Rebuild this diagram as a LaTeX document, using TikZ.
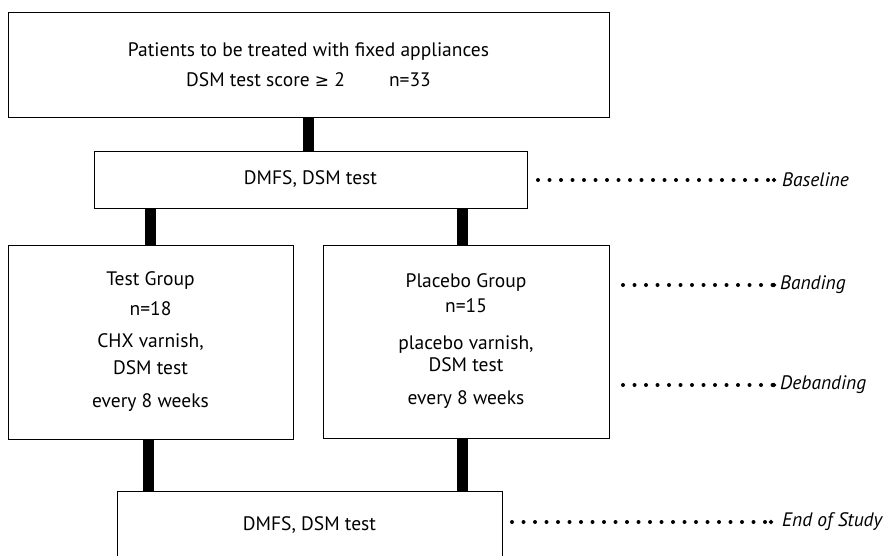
\documentclass[tikz,border=0pt]{standalone}
\usepackage{fontspec}
\setmainfont{PT Sans}
\newfontfamily\symfont{DejaVu Sans}
\usetikzlibrary{arrows.meta}
\tikzset{
	box/.style = {draw, line width = 1pt, inner sep = 0pt, align = center, font = \fontsize{19.5}{23.4}\selectfont},
	bar/.style = {line width = 11pt},
	leader/.style = {line width = 4pt, line cap = round, dash pattern = on 0pt off 11.5pt, -{Circle[length = 4pt, width = 4pt]}},
	stage/.style = {anchor = west, inner sep = 0pt, font = \fontsize{19.5}{23.4}\selectfont\itshape}
}

\begin{document}
\begin{tikzpicture}[x = 1pt, y = -1pt]
		\useasboundingbox (0,0) rectangle (886,555);
		\node (A)[box, minimum width = 601, minimum height = 105] at (308.5,64.5){Patients to be treated with fixed appliances\\[6.6pt]DSM test score {\symfont\fontsize{17}{20}\selectfont ≥} 2\hspace{44pt}n=33};
		\node (B)[box, minimum width = 433, minimum height = 57] at (310.5,179.5){DMFS, DSM test};
		\node (C)[box, minimum width = 285, minimum height = 194] at (150.5,342){Test Group\\[6.6pt]n=18\\[8.6pt]CHX varnish,\\[3.6pt]DSM test\\[9.6pt]every 8 weeks};
		\node (D)[box, minimum width = 286, minimum height = 193] at (466,341.5){Placebo Group\\[1.6pt]n=15\\[13.6pt]placebo varnish,\\[-1.4pt]DSM test\\[9.6pt]every 8 weeks};
		\node (E)[box, minimum width = 385, minimum height = 68] at (309.5,525){DMFS, DSM test};
		%
		\draw[bar] (A.south) -- (A.south |- B.north);
		\draw[bar] (C.north |- B.south) -- (C.north);
		\draw[bar] ([xshift = -4]D.north |- B.south) -- ([xshift = -4]D.north);
		\draw[bar] ([xshift = -2]C.south) -- ([xshift = -2]C.south |- E.north);
		\draw[bar] ([xshift = -4]D.south) -- ([xshift = -4]D.south |- E.north);
		%
		\node (base)[stage] at (782,180){Baseline};
		\node (band)[stage] at (780,285){Banding};
		\node (deband)[stage] at (780,385){Debanding};
		\node (end)[stage] at (782,522){End of Study};
		\coordinate (base0) at (538,180);
		\coordinate (band0) at (623,285);
		\coordinate (deband0) at (623,385);
		\coordinate (end0) at (512,522);
		\draw[leader] (base0) -- ([xshift = -6]base.west);
		\draw[leader] (band0) -- ([xshift = -4]band.west);
		\draw[leader] (deband0) -- ([xshift = -4]deband.west);
		\draw[leader] (end0) -- ([xshift = -9]end.west);
	\end{tikzpicture}
\end{document}
